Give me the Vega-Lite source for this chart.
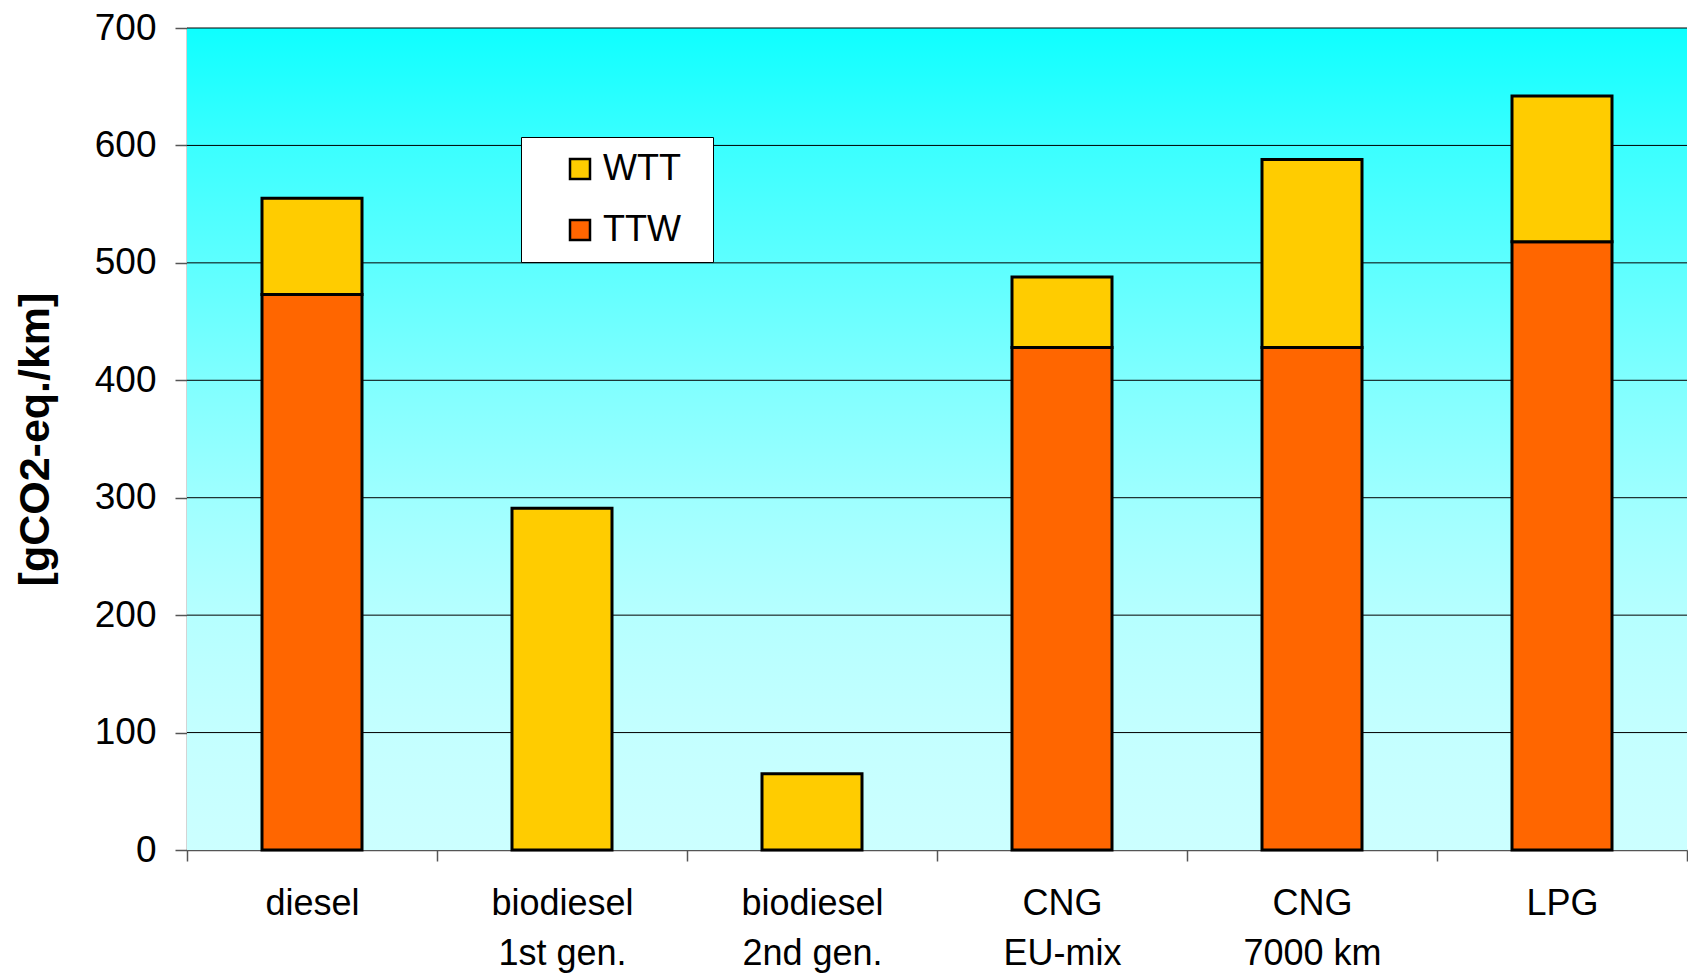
{
  "$schema": "https://vega.github.io/schema/vega-lite/v6.json",
  "width": 1500,
  "height": 822,
  "autosize": {"type": "none"},
  "padding": {"left": 187, "top": 28, "right": 1, "bottom": 126},
  "background": "white",
  "config": {
    "font": "Liberation Sans",
    "view": {"stroke": null},
    "axisY": {
      "grid": false,
      "tickCount": 7,
      "labelFontSize": 37,
      "labelColor": "black",
      "labelPadding": 19,
      "tickSize": 12,
      "tickColor": "#555555",
      "tickWidth": 1.5,
      "domainColor": "#555555",
      "domainWidth": 1.5,
      "titleFontSize": 43,
      "titleFontWeight": "bold",
      "titleColor": "black",
      "titleX": -152,
      "titleBaseline": "middle"
    }
  },
  "layer": [
    {
      "data": {"values": [{"bottom": 0, "top": 700}]},
      "mark": {
        "type": "rect",
        "fill": {
          "gradient": "linear",
          "x1": 0, "y1": 0, "x2": 0, "y2": 1,
          "stops": [
            {"offset": 0, "color": "#0EFFFF"},
            {"offset": 0.14, "color": "#3AFFFF"},
            {"offset": 0.29, "color": "#5EFFFF"},
            {"offset": 0.43, "color": "#80FFFF"},
            {"offset": 0.57, "color": "#9EFFFF"},
            {"offset": 0.71, "color": "#B5FFFF"},
            {"offset": 0.86, "color": "#C4FFFF"},
            {"offset": 1, "color": "#CCFFFF"}
          ]
        }
      },
      "encoding": {
        "y": {"field": "bottom", "type": "quantitative", "title": "[gCO2-eq./km]", "scale": {"domain": [0, 700], "nice": false}},
        "y2": {"field": "top"}
      }
    },
    {
      "data": {"values": [{"grid": 100}, {"grid": 200}, {"grid": 300}, {"grid": 400}, {"grid": 500}, {"grid": 600}, {"grid": 700}]},
      "mark": {"type": "rule", "color": "#000000", "strokeWidth": 1},
      "encoding": {
        "y": {"field": "grid", "type": "quantitative", "title": "[gCO2-eq./km]"}
      }
    },
    {
      "data": {
        "values": [
          {"fuel": "diesel", "type": "TTW", "value": 473},
          {"fuel": "diesel", "type": "WTT", "value": 82},
          {"fuel": "biodiesel|1st gen.", "type": "WTT", "value": 291},
          {"fuel": "biodiesel|2nd gen.", "type": "WTT", "value": 65},
          {"fuel": "CNG|EU-mix", "type": "TTW", "value": 428},
          {"fuel": "CNG|EU-mix", "type": "WTT", "value": 60},
          {"fuel": "CNG|7000 km", "type": "TTW", "value": 428},
          {"fuel": "CNG|7000 km", "type": "WTT", "value": 160},
          {"fuel": "LPG", "type": "TTW", "value": 518},
          {"fuel": "LPG", "type": "WTT", "value": 124}
        ]
      },
      "mark": {"type": "bar", "stroke": "black", "strokeWidth": 3, "width": {"band": 0.4}},
      "encoding": {
        "x": {
          "field": "fuel",
          "type": "nominal",
          "sort": null,
          "scale": {"paddingInner": 0, "paddingOuter": 0},
          "axis": {
            "title": null,
            "labelAngle": 0,
            "labelExpr": "isValid(datum.value) ? split(datum.value, '|') : ''",
            "labelFontSize": 36,
            "labelColor": "black",
            "labelPadding": 25,
            "labelLineHeight": 50,
            "labelBaseline": "top",
            "tickBand": "extent",
            "tickSize": 11,
            "tickColor": "#555555",
            "tickWidth": 1.5,
            "domainColor": "#555555",
            "domainWidth": 1.5,
            "grid": false
          }
        },
        "y": {
          "field": "value",
          "type": "quantitative",
          "stack": "zero",
          "title": "[gCO2-eq./km]"
        },
        "color": {
          "field": "type",
          "type": "nominal",
          "scale": {"domain": ["WTT", "TTW"], "range": ["#FFCC00", "#FF6600"]},
          "legend": {
            "title": "\u00a0",
            "titleOrient": "right",
            "titlePadding": 18,
            "titleFontSize": 4,
            "orient": "none",
            "legendX": 334,
            "legendY": 109,
            "fillColor": "white",
            "strokeColor": "black",
            "padding": 14,
            "symbolOffset": 27,
            "symbolType": "square",
            "symbolSize": 400,
            "symbolStrokeColor": "black",
            "symbolStrokeWidth": 2.5,
            "labelFontSize": 36,
            "labelColor": "black",
            "labelOffset": 5,
            "rowPadding": 25
          }
        },
        "order": {"field": "type", "sort": "ascending"}
      }
    }
  ]
}
